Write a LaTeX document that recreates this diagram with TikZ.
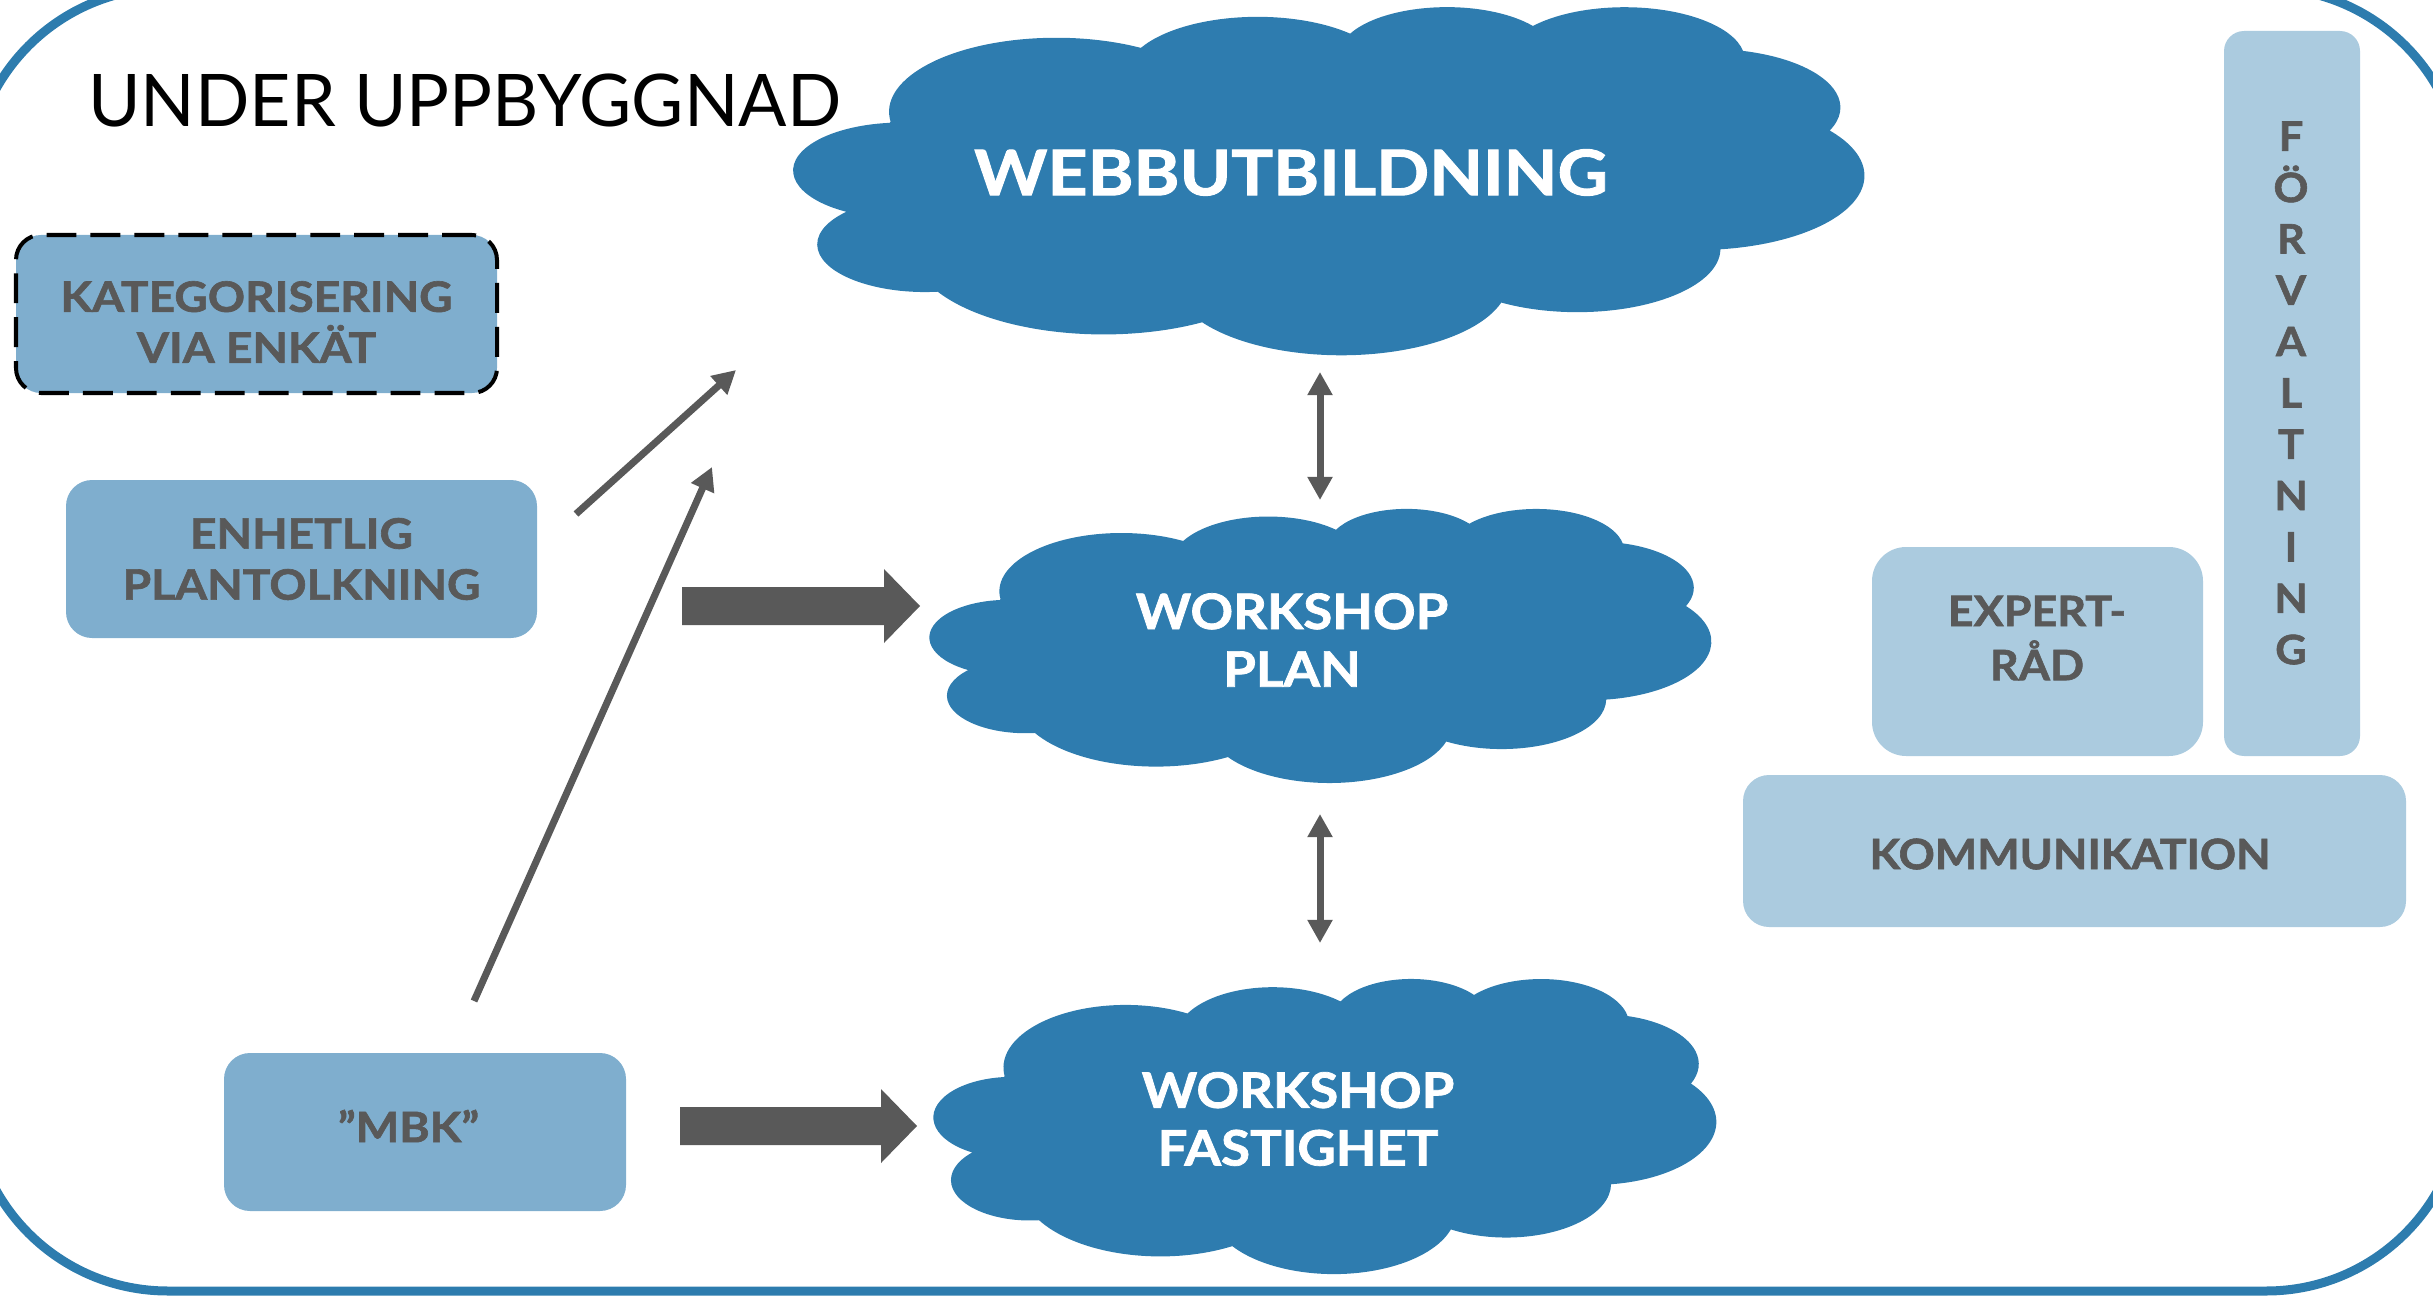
\documentclass[tikz,border=0pt]{standalone}
\usepackage{fontspec}
\setmainfont{Lato}
\newfontfamily\lblfont{Lato}[FakeStretch=1.10,BoldFeatures={FakeBold=1.5}]
\newfontfamily\rlblfont{Lato}[FakeStretch=1.07,BoldFeatures={FakeBold=1.5}]
\newfontfamily\wsfont{Lato}[FakeStretch=1.08,BoldFeatures={FakeBold=1.5}]
\newfontfamily\webfont{Lato}[FakeStretch=1.11,BoldFeatures={FakeBold=1.5}]
\newfontfamily\titlefont{Lato}[FakeStretch=0.985]
\usetikzlibrary{arrows.meta,calc,fit}

\definecolor{cloudblue}{RGB}{46,124,175}
\definecolor{framec}{RGB}{45,124,174}
\definecolor{boxdark}{RGB}{127,174,206}
\definecolor{boxlight}{RGB}{171,203,223}
\definecolor{txtgrey}{RGB}{89,89,89}

% PowerPoint cloud: convert visual arc angles to parametric ellipse angles
\makeatletter
\newcommand\cldang[5]{%
  \pgfmathsetmacro\cld@a{atan2((#2)*sin(#4),(#3)*cos(#4))}%
  \pgfmathsetmacro\cld@b{atan2((#2)*sin((#4)+(#5)),(#3)*cos((#4)+(#5)))}%
  \pgfmathsetmacro\cld@b{\cld@b+360*ceil((\cld@a-\cld@b)/360)}%
  \expandafter\xdef\csname cldS#1\endcsname{\cld@a}%
  \expandafter\xdef\csname cldE#1\endcsname{\cld@b}%
  \expandafter\xdef\csname cldX#1\endcsname{#2}%
  \expandafter\xdef\csname cldY#1\endcsname{#3}%
}
\makeatother
\cldang{a}{6.753}{9.190}{-190.48748}{123.78053}
\cldang{b}{5.333}{7.267}{-144.10238}{89.94523}
\cldang{c}{4.365}{5.945}{-145.80792}{99.72302}
\cldang{d}{4.857}{6.595}{-130.98607}{117.24173}
\cldang{e}{5.333}{7.273}{-78.70888}{109.02692}
\cldang{f}{6.775}{9.220}{-46.26725}{130.269}
\cldang{g}{5.785}{7.867}{0.62502}{114.03333}
\cldang{h}{6.752}{9.215}{22.4516}{115.17255}
\cldang{i}{7.720}{10.543}{66.24263}{75.71102}
\cldang{j}{4.360}{5.918}{-274.94208}{146.73557}
\cldang{k}{4.345}{5.945}{-246.8285}{152.51885}

\newcommand\drawcloud[4]{%
  \begin{scope}[shift={(#1,#2)},xscale=#3/43.2,yscale=#4/43.2]
    \fill[cloudblue] (3.9,14.37)
      arc[start angle=\cldSa,end angle=\cldEa,x radius=\cldXa,y radius=\cldYa]
      arc[start angle=\cldSb,end angle=\cldEb,x radius=\cldXb,y radius=\cldYb]
      arc[start angle=\cldSc,end angle=\cldEc,x radius=\cldXc,y radius=\cldYc]
      arc[start angle=\cldSd,end angle=\cldEd,x radius=\cldXd,y radius=\cldYd]
      arc[start angle=\cldSe,end angle=\cldEe,x radius=\cldXe,y radius=\cldYe]
      arc[start angle=\cldSf,end angle=\cldEf,x radius=\cldXf,y radius=\cldYf]
      arc[start angle=\cldSg,end angle=\cldEg,x radius=\cldXg,y radius=\cldYg]
      arc[start angle=\cldSh,end angle=\cldEh,x radius=\cldXh,y radius=\cldYh]
      arc[start angle=\cldSi,end angle=\cldEi,x radius=\cldXi,y radius=\cldYi]
      arc[start angle=\cldSj,end angle=\cldEj,x radius=\cldXj,y radius=\cldYj]
      arc[start angle=\cldSk,end angle=\cldEk,x radius=\cldXk,y radius=\cldYk]
      -- cycle;
  \end{scope}%
}

\tikzset{
  every node/.style={inner sep=0pt,outer sep=0pt},
  darkbox/.style={fill=boxdark,rounded corners=7.4pt},
  lightbox/.style={fill=boxlight,rounded corners=7.4pt},
  boxtext/.style={font=\lblfont\fontsize{11.92pt}{14.51pt}\selectfont\bfseries,text=txtgrey,align=center},
  rboxtext/.style={font=\rlblfont\fontsize{11.92pt}{14.51pt}\selectfont\bfseries,text=txtgrey,align=center},
  cloudtext/.style={font=\wsfont\fontsize{13.9pt}{16.4pt}\selectfont\bfseries,text=white,align=center},
  thinarrow/.style={draw=txtgrey,line width=2pt,-{Triangle[length=6.6pt,width=6.8pt]}},
  dblarrow/.style={draw=txtgrey,line width=2pt,{Triangle[length=6.6pt,width=6.8pt]}-{Triangle[length=6.6pt,width=6.8pt]}},
  blockarrow/.style={fill=txtgrey},
}

\begin{document}
\begin{tikzpicture}[x=0.01cm,y=-0.01cm]
\useasboundingbox (0,0) rectangle (2433,1297);
\clip (0,0) rectangle (2433,1297);

% outer frame
\draw[framec,line width=2.56pt,rounded corners=56pt] (-29,-12) rectangle (2463,1291);

% title
\node[anchor=base west,font=\titlefont\fontsize{20.65pt}{24pt}\selectfont] (title) at (88,127) {UNDER UPPBYGGNAD};

% clouds
\drawcloud{794}{6}{1070}{348}
\drawcloud{930}{508}{781}{274}
\drawcloud{934}{978}{782}{295}
\node[cloudtext,font=\webfont\fontsize{17.87pt}{20pt}\selectfont\bfseries] (webb) at (1291,172.5) {WEBBUTBILDNING};
\node[cloudtext] (plan) at (1292,640) {WORKSHOP\\PLAN};
\node[cloudtext] (fastighet) at (1298,1119) {WORKSHOP\\FASTIGHET};

% left boxes
\node[darkbox,draw=black,line width=1.14pt,dash pattern=on 8.5pt off 4pt,rounded corners=7.1pt,fit={(16,235) (497,393)}] (kat) {};
\node[boxtext] (katT) at (256.5,322) {KATEGORISERING\\VIA ENKÄT};
\node[darkbox,fit={(66,480) (537,638)}] (enh) {};
\node[boxtext] (enhT) at (301.5,559) {ENHETLIG\\PLANTOLKNING};
\node[darkbox,fit={(224,1053) (626,1211)}] (mbk) {};
\node[boxtext] (mbkT) at (408.5,1126) {”MBK”};

% right boxes
\node[lightbox,rounded corners=5.7pt,fit={(2224,31) (2360,756)}] (forv) {};
\node[rboxtext,font=\rlblfont\fontsize{11.52pt}{14.6pt}\selectfont\bfseries] (forvT) at (2291,393) {F\\Ö\\R\\V\\A\\L\\T\\N\\I\\N\\G};
\node[lightbox,rounded corners=9.7pt,fit={(1872,547) (2203,756)}] (exp) {};
\node[rboxtext,font=\rlblfont\fontsize{11.92pt}{15.4pt}\selectfont\bfseries] (expT) at (2037,638) {EXPERT-\\RÅD};
\node[lightbox,fit={(1743,775) (2406,927)}] (kom) {};
\node[rboxtext] (komT) at (2070,854) {KOMMUNIKATION};

% connector end points
\coordinate (d1a) at (1320,372);  \coordinate (d1b) at (1320,500);
\coordinate (d2a) at (1320,814);  \coordinate (d2b) at (1320,943);
\coordinate (t1a) at (576,514);   \coordinate (t1b) at (736,370);
\coordinate (t2a) at (474,1001);  \coordinate (t2b) at (712,467);
\coordinate (b1a) at (682,606);   \coordinate (b1b) at (920,606);
\coordinate (b2a) at (680,1126);  \coordinate (b2b) at (917,1126);

% connectors
\draw[dblarrow] (d1a) -- (d1b);
\draw[dblarrow] (d2a) -- (d2b);
\draw[thinarrow] (t1a) -- (t1b);
\draw[thinarrow] (t2a) -- (t2b);
\fill[blockarrow] ($(b1a)+(0,-19)$) -- ($(b1b)+(-36,-19)$) -- ($(b1b)+(-36,-37)$) -- (b1b)
  -- ($(b1b)+(-36,37)$) -- ($(b1b)+(-36,19)$) -- ($(b1a)+(0,19)$) -- cycle;
\fill[blockarrow] ($(b2a)+(0,-19)$) -- ($(b2b)+(-36,-19)$) -- ($(b2b)+(-36,-37)$) -- (b2b)
  -- ($(b2b)+(-36,37)$) -- ($(b2b)+(-36,19)$) -- ($(b2a)+(0,19)$) -- cycle;
\end{tikzpicture}
\end{document}
